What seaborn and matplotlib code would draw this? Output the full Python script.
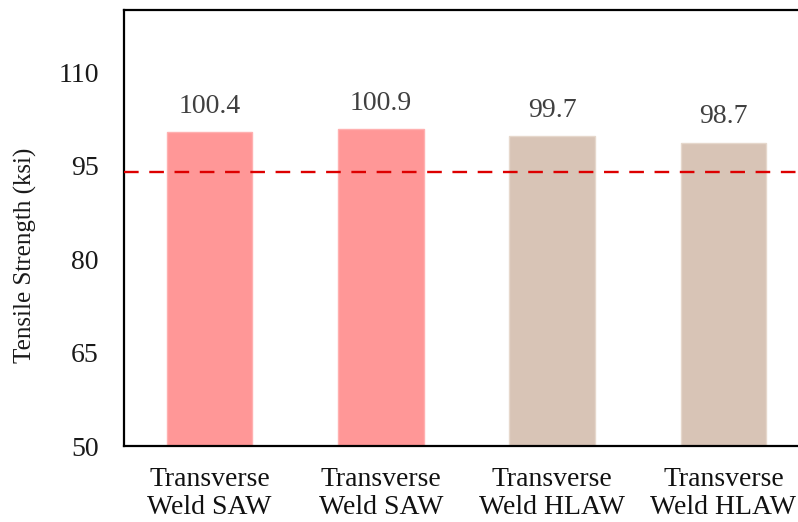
import matplotlib
matplotlib.use("Agg")
import matplotlib.pyplot as plt
import seaborn as sns
import pandas as pd

# Tensile strength per specimen group
categories = ["Transverse\nWeld SAW", "Transverse\nWeld SAW",
              "Transverse\nWeld HLAW", "Transverse\nWeld HLAW"]
strength = [100.4, 100.9, 99.7, 98.7]
bar_colors = ["#FF9797", "#FF9797", "#D8C4B6", "#D8C4B6"]
edge_colors = ["#FFB0B0", "#FFB0B0", "#E6D8CC", "#E6D8CC"]
min_required = 94.0
y_ticks = [50, 65, 80, 95, 110]

sns.set_theme(style="white")
plt.rcParams["font.family"] = ["Liberation Serif", "DejaVu Serif"]

df = pd.DataFrame({"idx": list(range(len(strength))), "strength": strength})

fig = plt.figure(figsize=(7.98, 5.22), dpi=100)
ax = fig.add_axes([124 / 798, 1 - 446 / 522, 685 / 798, 436 / 522])

sns.barplot(data=df, x="idx", y="strength", hue="idx", palette=bar_colors,
            saturation=1, legend=False, width=0.5, ax=ax, zorder=2)
for patch, ec in zip(ax.patches, edge_colors):
    patch.set_edgecolor(ec)
    patch.set_linewidth(1.0)

ax.axhline(min_required, color="#DD0000", linewidth=1.7,
           linestyle=(0, (6.2, 4.5)), zorder=3)

for i, v in enumerate(strength):
    ax.text(i, v + 3.1, f"{v:.1f}", ha="center", va="baseline",
            fontsize=20, color="#404040")

ax.set_xlim(-0.5, 3.5)
ax.set_ylim(50, 120)
ax.set_yticks(y_ticks)
ax.set_yticklabels([str(t) for t in y_ticks], fontsize=20, color="#1a1a1a")
ax.set_xticks(range(len(categories)))
ax.set_xticklabels(categories, fontsize=20, color="#111111", linespacing=1.18)
ax.tick_params(axis="y", length=0, pad=18)
ax.tick_params(axis="x", length=0, pad=15)

ax.set_xlabel("")
ax.set_ylabel("Tensile Strength (ksi)", fontsize=18, color="#1a1a1a")
ax.yaxis.set_label_coords(-0.127, 0.438)

for side in ["left", "right", "top", "bottom"]:
    ax.spines[side].set_visible(True)
    ax.spines[side].set_color("black")
    ax.spines[side].set_linewidth(1.6)

fig.savefig("out.png", dpi=100)
